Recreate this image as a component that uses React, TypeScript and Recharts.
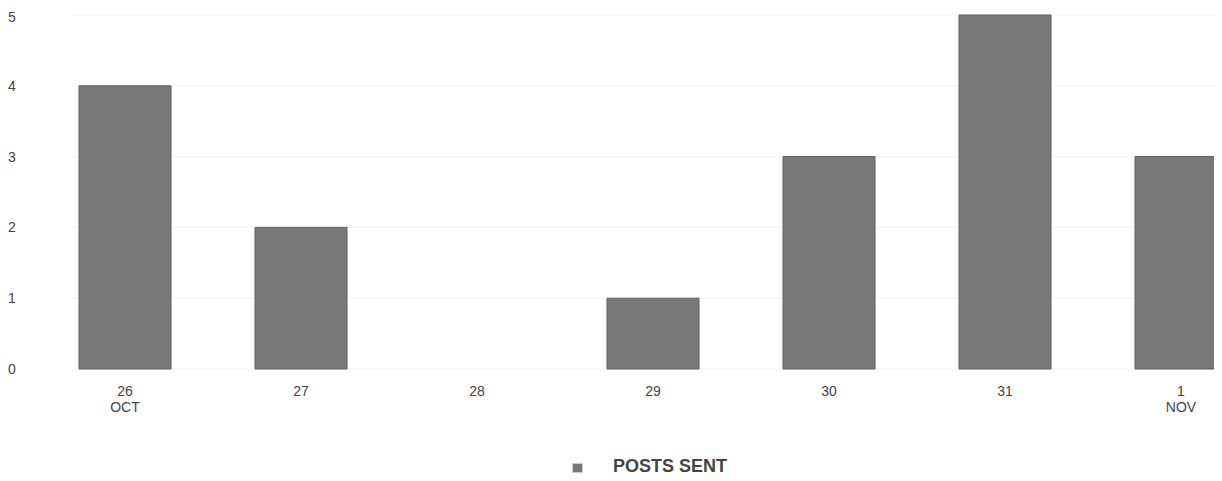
import React from "react";
import { BarChart, Bar, XAxis, YAxis, CartesianGrid, Legend } from "recharts";

const days = ["26", "27", "28", "29", "30", "31", "1"];
const months = ["OCT", "", "", "", "", "", "NOV"];
const postsSent = [4, 2, 0, 1, 3, 5, 3];
const yTicks = [0, 1, 2, 3, 4, 5];
const seriesName = "POSTS SENT";

const data = days.map((d, i) => ({ day: d, month: months[i], posts: postsSent[i] }));

const XTick = (props: any) => {
  const { x, y, payload, index } = props;
  const m = months[index] || "";
  return (
    <g>
      <text x={x} y={y + 14} textAnchor="middle" fill="#444" fontSize={14} fontFamily="Liberation Sans, Arial, sans-serif" dominantBaseline="central">
        {payload.value}
      </text>
      {m ? (
        <text x={x} y={y + 30} textAnchor="middle" fill="#444" fontSize={14} fontFamily="Liberation Sans, Arial, sans-serif" dominantBaseline="central">
          {m}
        </text>
      ) : null}
    </g>
  );
};

const YTick = (props: any) => {
  const { y, payload } = props;
  return (
    <text x={4} y={y} textAnchor="middle" fill="#444" fontSize={14} fontFamily="Liberation Sans, Arial, sans-serif" dominantBaseline="central">
      {payload.value}
    </text>
  );
};

const LegendContent = () => (
  <div style={{ display: "flex", alignItems: "center", fontFamily: "Liberation Sans, Arial, sans-serif", height: 0, overflow: "visible" }}>
    <span style={{ display: "inline-block", width: 11, height: 10, background: "#777", border: "1px solid #ccc", boxSizing: "border-box", marginTop: 3 }} />
    <span style={{ marginLeft: 30, fontWeight: "bold", fontSize: 18, color: "#444" }}>{seriesName}</span>
  </div>
);

export default function App() {
  return (
    <div style={{ width: 1214, height: 473, overflow: "hidden" }}>
      <BarChart width={1262} height={473} data={data} margin={{ top: 7, right: 1, bottom: 82, left: 0 }}>
        <CartesianGrid vertical={false} stroke="#f3f3f3" />
        <XAxis dataKey="day" height={30} axisLine={false} tickLine={false} tick={<XTick />} padding={{ left: -34, right: 0 }} interval={0} />
        <YAxis width={63} domain={[0, 5]} ticks={yTicks} axisLine={false} tickLine={false} tick={<YTick />} />
        <Legend content={<LegendContent />} wrapperStyle={{ position: "absolute", left: 564, top: 458, width: "auto", height: 0, overflow: "visible" }} />
        <Bar dataKey="posts" name={seriesName} fill="#787878" stroke="#5e5e5e" strokeWidth={1} barSize={92} isAnimationActive={false} />
      </BarChart>
    </div>
  );
}
